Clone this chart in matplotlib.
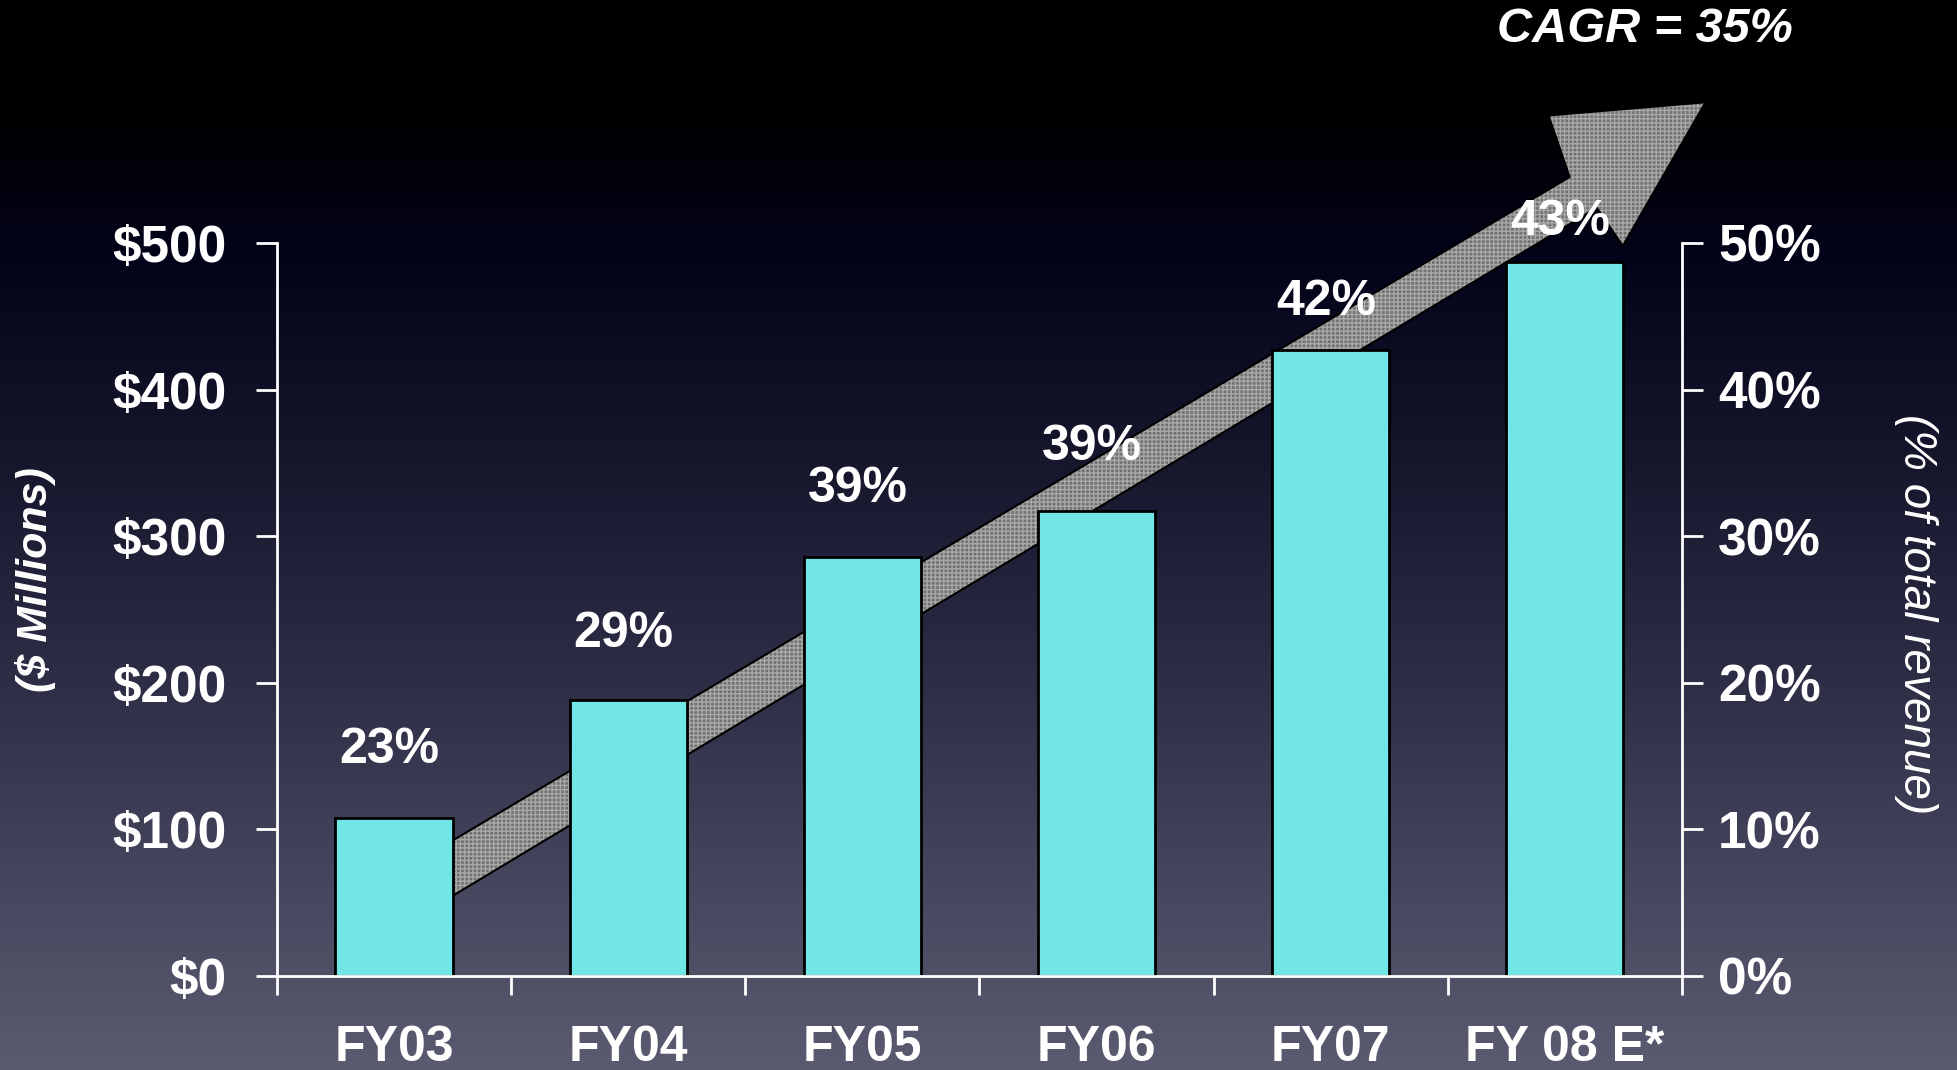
import numpy as np
import matplotlib
matplotlib.use("Agg")
import matplotlib.pyplot as plt
from matplotlib.colors import LinearSegmentedColormap
from matplotlib.patches import Polygon

# ---- data -------------------------------------------------------------
categories = ["FY03", "FY04", "FY05", "FY06", "FY07", "FY 08 E*"]
revenue_musd = [108, 188, 286, 317, 427, 487]          # $ millions
share_labels = ["23%", "29%", "39%", "39%", "42%", "43%"]  # % of total revenue
left_ticks = [0, 100, 200, 300, 400, 500]
left_ticklabels = ["$0", "$100", "$200", "$300", "$400", "$500"]
right_ticks = [0, 10, 20, 30, 40, 50]
right_ticklabels = ["0%", "10%", "20%", "30%", "40%", "50%"]
headline = "CAGR = 35%"

# ---- style ------------------------------------------------------------
plt.rcParams["font.family"] = ["Liberation Sans", "DejaVu Sans"]
BAR_COLOR = "#72e6e6"
WHITE = "white"
FS = 37

fig = plt.figure(figsize=(19.57, 10.70), dpi=100)

# vertical background gradient (black at top, slate at bottom)
bg = fig.add_axes([0, 0, 1, 1], zorder=-10)
cmap = LinearSegmentedColormap.from_list(
    "bg",
    [(0.0, "#000000"), (0.10, "#000000"), (0.24, "#03031a"),
     (0.45, "#18182f"), (0.65, "#2f2f48"), (0.82, "#45455d"),
     (1.0, "#5a5a70")])
grad = np.linspace(0, 1, 512).reshape(-1, 1)
bg.imshow(grad, aspect="auto", cmap=cmap, extent=[0, 1, 0, 1], origin="upper")
bg.axis("off")

ax = fig.add_axes([0.1415, 0.0879, 0.718, 0.6850])
ax.patch.set_alpha(0)
x = np.arange(len(categories))
ax.set_xlim(-0.5, len(categories) - 0.5)
ax.set_ylim(0, 500)

# growth arrow behind the bars
arrow_pts = [(0.025, 33), (5.136, 524), (5.247, 498), (5.60, 596),
             (4.93, 587), (5.02, 545), (0.025, 71)]
ax.add_patch(Polygon(arrow_pts, closed=True, facecolor="#727272",
                     edgecolor="#a8a8a8", hatch="++++", linewidth=0,
                     zorder=1, clip_on=False))
ax.add_patch(Polygon(arrow_pts, closed=True, fill=False, edgecolor="black",
                     linewidth=1.5, zorder=1.1, clip_on=False))

ax.bar(x, revenue_musd, width=0.5, color=BAR_COLOR, edgecolor="black",
       linewidth=2, zorder=2)

# share-of-revenue labels above each bar
label_gap = [46, 45, 46, 44, 33, 27]
for xi, v, lab, g in zip(x, revenue_musd, share_labels, label_gap):
    ax.text(xi - 0.02, v + g, lab, ha="center", va="center", color=WHITE,
            fontsize=36, fontweight="bold", zorder=5, clip_on=False)

# left axis
ax.set_yticks(left_ticks)
ax.set_yticklabels(left_ticklabels)
ax.set_xticks(np.arange(-0.5, len(categories)), minor=False)
ax.set_xticklabels([])
ax.set_xticks(x, minor=True)
ax.set_xticklabels(categories, minor=True)
ax.tick_params(axis="y", direction="out", length=15, width=2, colors=WHITE,
               labelsize=FS, pad=21)
ax.tick_params(axis="x", which="major", direction="out", length=14, width=2,
               colors=WHITE)
ax.tick_params(axis="x", which="minor", length=0, labelcolor=WHITE,
               labelsize=36, pad=35)
for lab in ax.get_yticklabels() + ax.get_xticklabels(minor=True):
    lab.set_fontweight("bold")
for side in ("top", "right"):
    ax.spines[side].set_visible(False)
for side in ("left", "bottom"):
    ax.spines[side].set_color(WHITE)
    ax.spines[side].set_linewidth(2)

# right axis
ax2 = ax.twinx()
ax2.set_ylim(0, 50)
ax2.set_yticks(right_ticks)
ax2.set_yticklabels(right_ticklabels)
ax2.tick_params(axis="y", direction="out", length=15, width=2, colors=WHITE,
                labelsize=FS, pad=11)
for lab in ax2.get_yticklabels():
    lab.set_fontweight("bold")
for side in ("top", "left", "bottom"):
    ax2.spines[side].set_visible(False)
ax2.spines["right"].set_color(WHITE)
ax2.spines["right"].set_linewidth(2)

# axis titles and headline
fig.text(0.018, 0.458, "($ Millions)", rotation=90, ha="center", va="center",
         color=WHITE, fontsize=31, fontweight="bold", style="italic")
fig.text(0.979, 0.426, "(% of total revenue)", rotation=270, ha="center",
         va="center", color=WHITE, fontsize=33, style="italic")
fig.text(0.8406, 0.972, headline, ha="center", va="center", color=WHITE,
         fontsize=35, fontweight="bold", style="italic")

fig.savefig("out.png", dpi=100)
